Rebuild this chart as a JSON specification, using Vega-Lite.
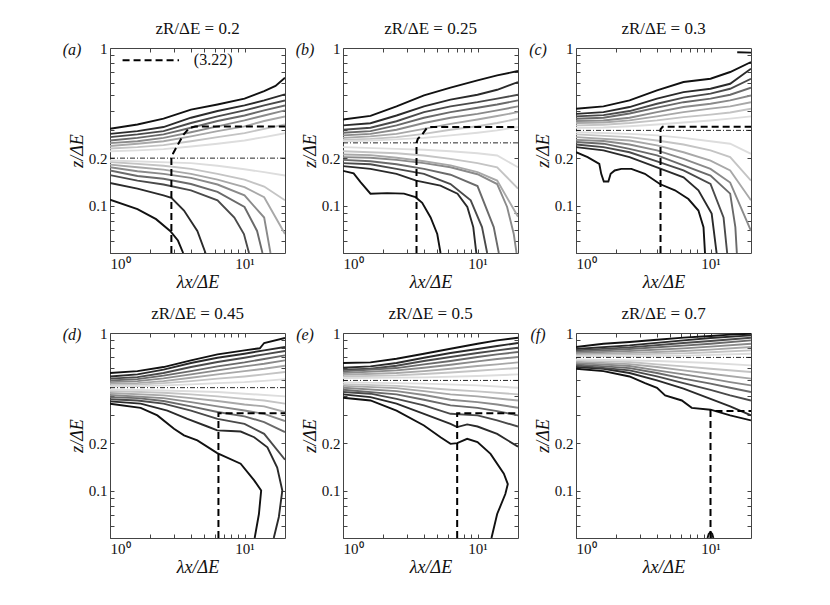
{
  "$schema": "https://vega.github.io/schema/vega-lite/v6.json",
  "padding": {"left": 62, "top": 19, "right": 5, "bottom": 5},
  "background": "white",
  "data": {
    "values": [
      {"p":"a","s":"h","x":1,"y":0.2},{"p":"a","s":"h","x":20,"y":0.2},
      {"p":"b","s":"h","x":1,"y":0.25},{"p":"b","s":"h","x":20,"y":0.25},
      {"p":"c","s":"h","x":1,"y":0.3},{"p":"c","s":"h","x":20,"y":0.3},
      {"p":"d","s":"h","x":1,"y":0.45},{"p":"d","s":"h","x":20,"y":0.45},
      {"p":"e","s":"h","x":1,"y":0.5},{"p":"e","s":"h","x":20,"y":0.5},
      {"p":"f","s":"h","x":1,"y":0.7},{"p":"f","s":"h","x":20,"y":0.7},

      {"p":"a","s":"n","x":1,"y":1,"txt":"(a)"},
      {"p":"b","s":"n","x":1,"y":1,"txt":"(b)"},
      {"p":"c","s":"n","x":1,"y":1,"txt":"(c)"},
      {"p":"d","s":"n","x":1,"y":1,"txt":"(d)"},
      {"p":"e","s":"n","x":1,"y":1,"txt":"(e)"},
      {"p":"f","s":"n","x":1,"y":1,"txt":"(f)"},
      {"p":"a","s":"q","x":4.2,"y":0.835,"txt":"(3.22)"},
      {"p":"a","s":"g","x":1.24,"y":0.835},{"p":"a","s":"g","x":3.26,"y":0.835},

      {"p":"a","s":"d","x":2.86,"y":0.05},{"p":"a","s":"d","x":2.86,"y":0.2},{"p":"a","s":"d","x":2.95,"y":0.215},{"p":"a","s":"d","x":3.5,"y":0.28},{"p":"a","s":"d","x":3.9,"y":0.312},{"p":"a","s":"d","x":4.3,"y":0.317},{"p":"a","s":"d","x":20,"y":0.317},
      {"p":"b","s":"d","x":3.52,"y":0.05},{"p":"b","s":"d","x":3.52,"y":0.25},{"p":"b","s":"d","x":3.6,"y":0.265},{"p":"b","s":"d","x":3.85,"y":0.28},{"p":"b","s":"d","x":4.2,"y":0.31},{"p":"b","s":"d","x":4.4,"y":0.315},{"p":"b","s":"d","x":20,"y":0.315},
      {"p":"c","s":"d","x":4.25,"y":0.05},{"p":"c","s":"d","x":4.25,"y":0.305},{"p":"c","s":"d","x":4.4,"y":0.316},{"p":"c","s":"d","x":20,"y":0.316},
      {"p":"d","s":"d","x":6.4,"y":0.05},{"p":"d","s":"d","x":6.4,"y":0.31},{"p":"d","s":"d","x":20,"y":0.31},
      {"p":"e","s":"d","x":7.06,"y":0.05},{"p":"e","s":"d","x":7.06,"y":0.31},{"p":"e","s":"d","x":20,"y":0.31},
      {"p":"f","s":"d","x":10,"y":0.05},{"p":"f","s":"d","x":10,"y":0.32},{"p":"f","s":"d","x":20,"y":0.32},

      {"p":"a","s":"u","k":1,"x":1,"y":0.307},{"p":"a","s":"u","k":1,"x":1.6,"y":0.327},{"p":"a","s":"u","k":1,"x":2.5,"y":0.356},{"p":"a","s":"u","k":1,"x":4,"y":0.406},{"p":"a","s":"u","k":1,"x":6.3,"y":0.438},{"p":"a","s":"u","k":1,"x":10,"y":0.477},{"p":"a","s":"u","k":1,"x":14,"y":0.533},{"p":"a","s":"u","k":1,"x":17,"y":0.575},{"p":"a","s":"u","k":1,"x":20,"y":0.648},
      {"p":"a","s":"u","k":2,"x":1,"y":0.285},{"p":"a","s":"u","k":2,"x":1.6,"y":0.297},{"p":"a","s":"u","k":2,"x":2.5,"y":0.315},{"p":"a","s":"u","k":2,"x":4,"y":0.361},{"p":"a","s":"u","k":2,"x":6.3,"y":0.398},{"p":"a","s":"u","k":2,"x":10,"y":0.432},{"p":"a","s":"u","k":2,"x":14,"y":0.465},{"p":"a","s":"u","k":2,"x":20,"y":0.508},
      {"p":"a","s":"u","k":3,"x":1,"y":0.272},{"p":"a","s":"u","k":3,"x":1.6,"y":0.283},{"p":"a","s":"u","k":3,"x":2.5,"y":0.297},{"p":"a","s":"u","k":3,"x":4,"y":0.334},{"p":"a","s":"u","k":3,"x":6.3,"y":0.368},{"p":"a","s":"u","k":3,"x":10,"y":0.402},{"p":"a","s":"u","k":3,"x":14,"y":0.432},{"p":"a","s":"u","k":3,"x":20,"y":0.465},
      {"p":"a","s":"u","k":4,"x":1,"y":0.259},{"p":"a","s":"u","k":4,"x":1.6,"y":0.269},{"p":"a","s":"u","k":4,"x":2.5,"y":0.283},{"p":"a","s":"u","k":4,"x":4,"y":0.312},{"p":"a","s":"u","k":4,"x":6.3,"y":0.344},{"p":"a","s":"u","k":4,"x":10,"y":0.373},{"p":"a","s":"u","k":4,"x":14,"y":0.402},{"p":"a","s":"u","k":4,"x":20,"y":0.432},
      {"p":"a","s":"u","k":5,"x":1,"y":0.249},{"p":"a","s":"u","k":5,"x":1.6,"y":0.256},{"p":"a","s":"u","k":5,"x":2.5,"y":0.269},{"p":"a","s":"u","k":5,"x":4,"y":0.292},{"p":"a","s":"u","k":5,"x":6.3,"y":0.318},{"p":"a","s":"u","k":5,"x":10,"y":0.347},{"p":"a","s":"u","k":5,"x":14,"y":0.373},{"p":"a","s":"u","k":5,"x":20,"y":0.402},
      {"p":"a","s":"u","k":6,"x":1,"y":0.239},{"p":"a","s":"u","k":6,"x":1.6,"y":0.247},{"p":"a","s":"u","k":6,"x":2.5,"y":0.256},{"p":"a","s":"u","k":6,"x":4,"y":0.275},{"p":"a","s":"u","k":6,"x":6.3,"y":0.297},{"p":"a","s":"u","k":6,"x":10,"y":0.318},{"p":"a","s":"u","k":6,"x":14,"y":0.344},{"p":"a","s":"u","k":6,"x":20,"y":0.368},
      {"p":"a","s":"u","k":7,"x":1,"y":0.23},{"p":"a","s":"u","k":7,"x":1.6,"y":0.235},{"p":"a","s":"u","k":7,"x":2.5,"y":0.242},{"p":"a","s":"u","k":7,"x":4,"y":0.256},{"p":"a","s":"u","k":7,"x":6.3,"y":0.272},{"p":"a","s":"u","k":7,"x":10,"y":0.288},{"p":"a","s":"u","k":7,"x":14,"y":0.307},{"p":"a","s":"u","k":7,"x":20,"y":0.327},
      {"p":"a","s":"u","k":8,"x":1,"y":0.221},{"p":"a","s":"u","k":8,"x":1.6,"y":0.224},{"p":"a","s":"u","k":8,"x":2.5,"y":0.228},{"p":"a","s":"u","k":8,"x":4,"y":0.237},{"p":"a","s":"u","k":8,"x":6.3,"y":0.247},{"p":"a","s":"u","k":8,"x":10,"y":0.259},{"p":"a","s":"u","k":8,"x":14,"y":0.272},{"p":"a","s":"u","k":8,"x":20,"y":0.288},
      {"p":"a","s":"l","k":1,"x":1,"y":0.109},{"p":"a","s":"l","k":1,"x":1.6,"y":0.095},{"p":"a","s":"l","k":1,"x":2.2,"y":0.082},{"p":"a","s":"l","k":1,"x":2.8,"y":0.069},{"p":"a","s":"l","k":1,"x":3.2,"y":0.06},{"p":"a","s":"l","k":1,"x":3.5,"y":0.05},
      {"p":"a","s":"l","k":2,"x":1,"y":0.139},{"p":"a","s":"l","k":2,"x":1.6,"y":0.128},{"p":"a","s":"l","k":2,"x":2.5,"y":0.116},{"p":"a","s":"l","k":2,"x":2.86,"y":0.112},{"p":"a","s":"l","k":2,"x":3.55,"y":0.093},{"p":"a","s":"l","k":2,"x":4.46,"y":0.069},{"p":"a","s":"l","k":2,"x":5.13,"y":0.05},
      {"p":"a","s":"l","k":3,"x":1,"y":0.156},{"p":"a","s":"l","k":3,"x":1.6,"y":0.144},{"p":"a","s":"l","k":3,"x":2.5,"y":0.136},{"p":"a","s":"l","k":3,"x":4,"y":0.125},{"p":"a","s":"l","k":3,"x":6.3,"y":0.108},{"p":"a","s":"l","k":3,"x":8.4,"y":0.084},{"p":"a","s":"l","k":3,"x":9.9,"y":0.066},{"p":"a","s":"l","k":3,"x":10.8,"y":0.05},
      {"p":"a","s":"l","k":4,"x":1,"y":0.167},{"p":"a","s":"l","k":4,"x":1.6,"y":0.154},{"p":"a","s":"l","k":4,"x":2.5,"y":0.148},{"p":"a","s":"l","k":4,"x":4,"y":0.137},{"p":"a","s":"l","k":4,"x":6.3,"y":0.122},{"p":"a","s":"l","k":4,"x":10,"y":0.098},{"p":"a","s":"l","k":4,"x":12.4,"y":0.069},{"p":"a","s":"l","k":4,"x":13.6,"y":0.05},
      {"p":"a","s":"l","k":5,"x":1,"y":0.175},{"p":"a","s":"l","k":5,"x":1.6,"y":0.165},{"p":"a","s":"l","k":5,"x":2.5,"y":0.159},{"p":"a","s":"l","k":5,"x":4,"y":0.15},{"p":"a","s":"l","k":5,"x":6.3,"y":0.136},{"p":"a","s":"l","k":5,"x":10,"y":0.116},{"p":"a","s":"l","k":5,"x":14,"y":0.084},{"p":"a","s":"l","k":5,"x":15.6,"y":0.05},
      {"p":"a","s":"l","k":6,"x":1,"y":0.182},{"p":"a","s":"l","k":6,"x":1.6,"y":0.175},{"p":"a","s":"l","k":6,"x":2.5,"y":0.169},{"p":"a","s":"l","k":6,"x":4,"y":0.159},{"p":"a","s":"l","k":6,"x":6.3,"y":0.146},{"p":"a","s":"l","k":6,"x":10,"y":0.131},{"p":"a","s":"l","k":6,"x":14,"y":0.113},{"p":"a","s":"l","k":6,"x":20,"y":0.066},
      {"p":"a","s":"l","k":7,"x":1,"y":0.189},{"p":"a","s":"l","k":7,"x":1.6,"y":0.184},{"p":"a","s":"l","k":7,"x":2.5,"y":0.179},{"p":"a","s":"l","k":7,"x":4,"y":0.171},{"p":"a","s":"l","k":7,"x":6.3,"y":0.159},{"p":"a","s":"l","k":7,"x":10,"y":0.146},{"p":"a","s":"l","k":7,"x":14,"y":0.132},{"p":"a","s":"l","k":7,"x":20,"y":0.108},
      {"p":"a","s":"l","k":8,"x":1,"y":0.193},{"p":"a","s":"l","k":8,"x":4,"y":0.186},{"p":"a","s":"l","k":8,"x":6.3,"y":0.179},{"p":"a","s":"l","k":8,"x":10,"y":0.17},{"p":"a","s":"l","k":8,"x":14,"y":0.163},{"p":"a","s":"l","k":8,"x":20,"y":0.155},

      {"p":"b","s":"u","k":1,"x":1,"y":0.352},{"p":"b","s":"u","k":1,"x":1.6,"y":0.371},{"p":"b","s":"u","k":1,"x":2.5,"y":0.426},{"p":"b","s":"u","k":1,"x":4,"y":0.5},{"p":"b","s":"u","k":1,"x":6.3,"y":0.56},{"p":"b","s":"u","k":1,"x":10,"y":0.623},{"p":"b","s":"u","k":1,"x":14,"y":0.67},{"p":"b","s":"u","k":1,"x":20,"y":0.714},
      {"p":"b","s":"u","k":2,"x":1,"y":0.323},{"p":"b","s":"u","k":2,"x":1.6,"y":0.333},{"p":"b","s":"u","k":2,"x":2.5,"y":0.373},{"p":"b","s":"u","k":2,"x":4,"y":0.426},{"p":"b","s":"u","k":2,"x":6.3,"y":0.47},{"p":"b","s":"u","k":2,"x":10,"y":0.505},{"p":"b","s":"u","k":2,"x":14,"y":0.543},{"p":"b","s":"u","k":2,"x":20,"y":0.608},
      {"p":"b","s":"u","k":3,"x":1,"y":0.303},{"p":"b","s":"u","k":3,"x":1.6,"y":0.312},{"p":"b","s":"u","k":3,"x":2.5,"y":0.343},{"p":"b","s":"u","k":3,"x":4,"y":0.392},{"p":"b","s":"u","k":3,"x":6.3,"y":0.426},{"p":"b","s":"u","k":3,"x":10,"y":0.453},{"p":"b","s":"u","k":3,"x":14,"y":0.477},{"p":"b","s":"u","k":3,"x":20,"y":0.505},
      {"p":"b","s":"u","k":4,"x":1,"y":0.29},{"p":"b","s":"u","k":4,"x":1.6,"y":0.297},{"p":"b","s":"u","k":4,"x":2.5,"y":0.323},{"p":"b","s":"u","k":4,"x":4,"y":0.361},{"p":"b","s":"u","k":4,"x":6.3,"y":0.392},{"p":"b","s":"u","k":4,"x":10,"y":0.418},{"p":"b","s":"u","k":4,"x":14,"y":0.438},{"p":"b","s":"u","k":4,"x":20,"y":0.465},
      {"p":"b","s":"u","k":5,"x":1,"y":0.279},{"p":"b","s":"u","k":5,"x":1.6,"y":0.285},{"p":"b","s":"u","k":5,"x":2.5,"y":0.303},{"p":"b","s":"u","k":5,"x":4,"y":0.334},{"p":"b","s":"u","k":5,"x":6.3,"y":0.361},{"p":"b","s":"u","k":5,"x":10,"y":0.382},{"p":"b","s":"u","k":5,"x":14,"y":0.402},{"p":"b","s":"u","k":5,"x":20,"y":0.426},
      {"p":"b","s":"u","k":6,"x":1,"y":0.269},{"p":"b","s":"u","k":6,"x":1.6,"y":0.275},{"p":"b","s":"u","k":6,"x":2.5,"y":0.285},{"p":"b","s":"u","k":6,"x":4,"y":0.307},{"p":"b","s":"u","k":6,"x":6.3,"y":0.33},{"p":"b","s":"u","k":6,"x":10,"y":0.352},{"p":"b","s":"u","k":6,"x":14,"y":0.37},{"p":"b","s":"u","k":6,"x":20,"y":0.392},
      {"p":"b","s":"u","k":7,"x":1,"y":0.261},{"p":"b","s":"u","k":7,"x":1.6,"y":0.265},{"p":"b","s":"u","k":7,"x":2.5,"y":0.272},{"p":"b","s":"u","k":7,"x":4,"y":0.285},{"p":"b","s":"u","k":7,"x":6.3,"y":0.303},{"p":"b","s":"u","k":7,"x":10,"y":0.319},{"p":"b","s":"u","k":7,"x":14,"y":0.334},{"p":"b","s":"u","k":7,"x":20,"y":0.356},
      {"p":"b","s":"u","k":8,"x":1,"y":0.256},{"p":"b","s":"u","k":8,"x":1.6,"y":0.259},{"p":"b","s":"u","k":8,"x":2.5,"y":0.263},{"p":"b","s":"u","k":8,"x":4,"y":0.269},{"p":"b","s":"u","k":8,"x":6.3,"y":0.279},{"p":"b","s":"u","k":8,"x":10,"y":0.29},{"p":"b","s":"u","k":8,"x":14,"y":0.3},{"p":"b","s":"u","k":8,"x":20,"y":0.315},
      {"p":"b","s":"l","k":1,"x":1,"y":0.166},{"p":"b","s":"l","k":1,"x":1.2,"y":0.16},{"p":"b","s":"l","k":1,"x":1.35,"y":0.141},{"p":"b","s":"l","k":1,"x":1.6,"y":0.119},{"p":"b","s":"l","k":1,"x":2.13,"y":0.12},{"p":"b","s":"l","k":1,"x":2.84,"y":0.119},{"p":"b","s":"l","k":1,"x":3.46,"y":0.113},{"p":"b","s":"l","k":1,"x":3.88,"y":0.104},{"p":"b","s":"l","k":1,"x":4.48,"y":0.084},{"p":"b","s":"l","k":1,"x":5.02,"y":0.066},{"p":"b","s":"l","k":1,"x":5.31,"y":0.05},
      {"p":"b","s":"l","k":2,"x":1,"y":0.178},{"p":"b","s":"l","k":2,"x":1.6,"y":0.171},{"p":"b","s":"l","k":2,"x":2.5,"y":0.159},{"p":"b","s":"l","k":2,"x":3.5,"y":0.144},{"p":"b","s":"l","k":2,"x":5.3,"y":0.134},{"p":"b","s":"l","k":2,"x":7.1,"y":0.119},{"p":"b","s":"l","k":2,"x":8.4,"y":0.098},{"p":"b","s":"l","k":2,"x":9.3,"y":0.073},{"p":"b","s":"l","k":2,"x":9.8,"y":0.05},
      {"p":"b","s":"l","k":3,"x":1,"y":0.186},{"p":"b","s":"l","k":3,"x":1.6,"y":0.183},{"p":"b","s":"l","k":3,"x":2.5,"y":0.171},{"p":"b","s":"l","k":3,"x":4,"y":0.159},{"p":"b","s":"l","k":3,"x":6.3,"y":0.137},{"p":"b","s":"l","k":3,"x":8.9,"y":0.108},{"p":"b","s":"l","k":3,"x":10.8,"y":0.073},{"p":"b","s":"l","k":3,"x":11.8,"y":0.05},
      {"p":"b","s":"l","k":4,"x":1,"y":0.195},{"p":"b","s":"l","k":4,"x":1.6,"y":0.191},{"p":"b","s":"l","k":4,"x":2.5,"y":0.183},{"p":"b","s":"l","k":4,"x":4,"y":0.171},{"p":"b","s":"l","k":4,"x":6.3,"y":0.157},{"p":"b","s":"l","k":4,"x":10,"y":0.133},{"p":"b","s":"l","k":4,"x":13.2,"y":0.073},{"p":"b","s":"l","k":4,"x":14.4,"y":0.05},
      {"p":"b","s":"l","k":5,"x":1,"y":0.203},{"p":"b","s":"l","k":5,"x":1.6,"y":0.201},{"p":"b","s":"l","k":5,"x":2.5,"y":0.195},{"p":"b","s":"l","k":5,"x":4,"y":0.186},{"p":"b","s":"l","k":5,"x":6.3,"y":0.175},{"p":"b","s":"l","k":5,"x":10,"y":0.158},{"p":"b","s":"l","k":5,"x":14,"y":0.137},{"p":"b","s":"l","k":5,"x":16.6,"y":0.098},{"p":"b","s":"l","k":5,"x":18.6,"y":0.066},{"p":"b","s":"l","k":5,"x":19.5,"y":0.05},
      {"p":"b","s":"l","k":6,"x":1,"y":0.211},{"p":"b","s":"l","k":6,"x":1.6,"y":0.209},{"p":"b","s":"l","k":6,"x":2.5,"y":0.201},{"p":"b","s":"l","k":6,"x":4,"y":0.191},{"p":"b","s":"l","k":6,"x":6.3,"y":0.18},{"p":"b","s":"l","k":6,"x":10,"y":0.163},{"p":"b","s":"l","k":6,"x":14,"y":0.144},{"p":"b","s":"l","k":6,"x":20,"y":0.085},
      {"p":"b","s":"l","k":7,"x":1,"y":0.221},{"p":"b","s":"l","k":7,"x":2.5,"y":0.215},{"p":"b","s":"l","k":7,"x":4,"y":0.208},{"p":"b","s":"l","k":7,"x":6.3,"y":0.198},{"p":"b","s":"l","k":7,"x":10,"y":0.186},{"p":"b","s":"l","k":7,"x":14,"y":0.175},{"p":"b","s":"l","k":7,"x":20,"y":0.128},
      {"p":"b","s":"l","k":8,"x":1,"y":0.235},{"p":"b","s":"l","k":8,"x":2.5,"y":0.229},{"p":"b","s":"l","k":8,"x":4,"y":0.226},{"p":"b","s":"l","k":8,"x":6.3,"y":0.221},{"p":"b","s":"l","k":8,"x":10,"y":0.215},{"p":"b","s":"l","k":8,"x":14,"y":0.208},{"p":"b","s":"l","k":8,"x":20,"y":0.175},

      {"p":"c","s":"u","k":1,"x":1,"y":0.412},{"p":"c","s":"u","k":1,"x":1.6,"y":0.426},{"p":"c","s":"u","k":1,"x":2.5,"y":0.465},{"p":"c","s":"u","k":1,"x":4,"y":0.538},{"p":"c","s":"u","k":1,"x":6.3,"y":0.608},{"p":"c","s":"u","k":1,"x":10,"y":0.638},{"p":"c","s":"u","k":1,"x":14,"y":0.704},{"p":"c","s":"u","k":1,"x":20,"y":0.815},
      {"p":"c","s":"u","k":2,"x":1,"y":0.382},{"p":"c","s":"u","k":2,"x":1.6,"y":0.392},{"p":"c","s":"u","k":2,"x":2.5,"y":0.422},{"p":"c","s":"u","k":2,"x":4,"y":0.477},{"p":"c","s":"u","k":2,"x":6.3,"y":0.525},{"p":"c","s":"u","k":2,"x":10,"y":0.551},{"p":"c","s":"u","k":2,"x":14,"y":0.593},{"p":"c","s":"u","k":2,"x":20,"y":0.739},
      {"p":"c","s":"u","k":3,"x":1,"y":0.368},{"p":"c","s":"u","k":3,"x":1.6,"y":0.375},{"p":"c","s":"u","k":3,"x":2.5,"y":0.398},{"p":"c","s":"u","k":3,"x":4,"y":0.443},{"p":"c","s":"u","k":3,"x":6.3,"y":0.484},{"p":"c","s":"u","k":3,"x":10,"y":0.513},{"p":"c","s":"u","k":3,"x":14,"y":0.551},{"p":"c","s":"u","k":3,"x":20,"y":0.638},
      {"p":"c","s":"u","k":4,"x":1,"y":0.356},{"p":"c","s":"u","k":4,"x":1.6,"y":0.361},{"p":"c","s":"u","k":4,"x":2.5,"y":0.384},{"p":"c","s":"u","k":4,"x":4,"y":0.418},{"p":"c","s":"u","k":4,"x":6.3,"y":0.453},{"p":"c","s":"u","k":4,"x":10,"y":0.477},{"p":"c","s":"u","k":4,"x":14,"y":0.505},{"p":"c","s":"u","k":4,"x":20,"y":0.56},
      {"p":"c","s":"u","k":5,"x":1,"y":0.344},{"p":"c","s":"u","k":5,"x":1.6,"y":0.347},{"p":"c","s":"u","k":5,"x":2.5,"y":0.361},{"p":"c","s":"u","k":5,"x":4,"y":0.392},{"p":"c","s":"u","k":5,"x":6.3,"y":0.422},{"p":"c","s":"u","k":5,"x":10,"y":0.443},{"p":"c","s":"u","k":5,"x":14,"y":0.465},{"p":"c","s":"u","k":5,"x":20,"y":0.5},
      {"p":"c","s":"u","k":6,"x":1,"y":0.334},{"p":"c","s":"u","k":6,"x":1.6,"y":0.337},{"p":"c","s":"u","k":6,"x":2.5,"y":0.347},{"p":"c","s":"u","k":6,"x":4,"y":0.368},{"p":"c","s":"u","k":6,"x":6.3,"y":0.392},{"p":"c","s":"u","k":6,"x":10,"y":0.412},{"p":"c","s":"u","k":6,"x":14,"y":0.426},{"p":"c","s":"u","k":6,"x":20,"y":0.453},
      {"p":"c","s":"u","k":7,"x":1,"y":0.323},{"p":"c","s":"u","k":7,"x":1.6,"y":0.326},{"p":"c","s":"u","k":7,"x":2.5,"y":0.334},{"p":"c","s":"u","k":7,"x":4,"y":0.347},{"p":"c","s":"u","k":7,"x":6.3,"y":0.364},{"p":"c","s":"u","k":7,"x":10,"y":0.378},{"p":"c","s":"u","k":7,"x":14,"y":0.39},{"p":"c","s":"u","k":7,"x":20,"y":0.412},
      {"p":"c","s":"u","k":8,"x":1,"y":0.312},{"p":"c","s":"u","k":8,"x":1.6,"y":0.313},{"p":"c","s":"u","k":8,"x":2.5,"y":0.319},{"p":"c","s":"u","k":8,"x":4,"y":0.327},{"p":"c","s":"u","k":8,"x":6.3,"y":0.337},{"p":"c","s":"u","k":8,"x":10,"y":0.347},{"p":"c","s":"u","k":8,"x":14,"y":0.356},{"p":"c","s":"u","k":8,"x":20,"y":0.368},
      {"p":"c","s":"v","k":1,"x":15.8,"y":0.94},{"p":"c","s":"v","k":1,"x":20,"y":0.935},
      {"p":"c","s":"l","k":1,"x":1,"y":0.218},{"p":"c","s":"l","k":1,"x":1.22,"y":0.203},{"p":"c","s":"l","k":1,"x":1.49,"y":0.184},{"p":"c","s":"l","k":1,"x":1.54,"y":0.159},{"p":"c","s":"l","k":1,"x":1.61,"y":0.142},{"p":"c","s":"l","k":1,"x":1.74,"y":0.142},{"p":"c","s":"l","k":1,"x":1.81,"y":0.159},{"p":"c","s":"l","k":1,"x":1.94,"y":0.167},{"p":"c","s":"l","k":1,"x":2.17,"y":0.171},{"p":"c","s":"l","k":1,"x":2.58,"y":0.171},{"p":"c","s":"l","k":1,"x":3.25,"y":0.159},{"p":"c","s":"l","k":1,"x":4.2,"y":0.137},{"p":"c","s":"l","k":1,"x":5.44,"y":0.125},{"p":"c","s":"l","k":1,"x":6.85,"y":0.11},{"p":"c","s":"l","k":1,"x":8.13,"y":0.093},{"p":"c","s":"l","k":1,"x":8.87,"y":0.073},{"p":"c","s":"l","k":1,"x":9.1,"y":0.05},
      {"p":"c","s":"l","k":2,"x":1,"y":0.235},{"p":"c","s":"l","k":2,"x":1.6,"y":0.224},{"p":"c","s":"l","k":2,"x":2.5,"y":0.203},{"p":"c","s":"l","k":2,"x":4,"y":0.175},{"p":"c","s":"l","k":2,"x":6.3,"y":0.151},{"p":"c","s":"l","k":2,"x":8.13,"y":0.125},{"p":"c","s":"l","k":2,"x":10.2,"y":0.089},{"p":"c","s":"l","k":2,"x":11.1,"y":0.05},
      {"p":"c","s":"l","k":3,"x":1,"y":0.244},{"p":"c","s":"l","k":3,"x":1.6,"y":0.235},{"p":"c","s":"l","k":3,"x":2.5,"y":0.218},{"p":"c","s":"l","k":3,"x":4,"y":0.191},{"p":"c","s":"l","k":3,"x":6.3,"y":0.167},{"p":"c","s":"l","k":3,"x":10,"y":0.137},{"p":"c","s":"l","k":3,"x":12.5,"y":0.084},{"p":"c","s":"l","k":3,"x":13.3,"y":0.05},
      {"p":"c","s":"l","k":4,"x":1,"y":0.253},{"p":"c","s":"l","k":4,"x":1.6,"y":0.247},{"p":"c","s":"l","k":4,"x":2.5,"y":0.229},{"p":"c","s":"l","k":4,"x":4,"y":0.208},{"p":"c","s":"l","k":4,"x":6.3,"y":0.18},{"p":"c","s":"l","k":4,"x":10,"y":0.155},{"p":"c","s":"l","k":4,"x":14,"y":0.119},{"p":"c","s":"l","k":4,"x":15.3,"y":0.073},{"p":"c","s":"l","k":4,"x":15.7,"y":0.05},
      {"p":"c","s":"l","k":5,"x":1,"y":0.261},{"p":"c","s":"l","k":5,"x":1.6,"y":0.257},{"p":"c","s":"l","k":5,"x":2.5,"y":0.244},{"p":"c","s":"l","k":5,"x":4,"y":0.224},{"p":"c","s":"l","k":5,"x":6.3,"y":0.198},{"p":"c","s":"l","k":5,"x":10,"y":0.171},{"p":"c","s":"l","k":5,"x":14,"y":0.14},{"p":"c","s":"l","k":5,"x":20,"y":0.069},
      {"p":"c","s":"l","k":6,"x":1,"y":0.272},{"p":"c","s":"l","k":6,"x":2.5,"y":0.259},{"p":"c","s":"l","k":6,"x":4,"y":0.241},{"p":"c","s":"l","k":6,"x":6.3,"y":0.218},{"p":"c","s":"l","k":6,"x":10,"y":0.193},{"p":"c","s":"l","k":6,"x":14,"y":0.167},{"p":"c","s":"l","k":6,"x":20,"y":0.108},
      {"p":"c","s":"l","k":7,"x":1,"y":0.283},{"p":"c","s":"l","k":7,"x":2.5,"y":0.272},{"p":"c","s":"l","k":7,"x":4,"y":0.259},{"p":"c","s":"l","k":7,"x":6.3,"y":0.244},{"p":"c","s":"l","k":7,"x":10,"y":0.224},{"p":"c","s":"l","k":7,"x":14,"y":0.203},{"p":"c","s":"l","k":7,"x":20,"y":0.144},
      {"p":"c","s":"l","k":8,"x":1,"y":0.292},{"p":"c","s":"l","k":8,"x":2.5,"y":0.285},{"p":"c","s":"l","k":8,"x":4,"y":0.279},{"p":"c","s":"l","k":8,"x":6.3,"y":0.269},{"p":"c","s":"l","k":8,"x":10,"y":0.256},{"p":"c","s":"l","k":8,"x":14,"y":0.247},{"p":"c","s":"l","k":8,"x":20,"y":0.213},

      {"p":"d","s":"u","k":1,"x":1,"y":0.557},{"p":"d","s":"u","k":1,"x":1.6,"y":0.573},{"p":"d","s":"u","k":1,"x":2.5,"y":0.608},{"p":"d","s":"u","k":1,"x":4,"y":0.67},{"p":"d","s":"u","k":1,"x":6.3,"y":0.732},{"p":"d","s":"u","k":1,"x":10,"y":0.776},{"p":"d","s":"u","k":1,"x":13,"y":0.8},{"p":"d","s":"u","k":1,"x":14,"y":0.864},{"p":"d","s":"u","k":1,"x":20,"y":0.929},
      {"p":"d","s":"u","k":2,"x":1,"y":0.53},{"p":"d","s":"u","k":2,"x":1.6,"y":0.546},{"p":"d","s":"u","k":2,"x":2.5,"y":0.585},{"p":"d","s":"u","k":2,"x":4,"y":0.645},{"p":"d","s":"u","k":2,"x":6.3,"y":0.697},{"p":"d","s":"u","k":2,"x":10,"y":0.739},{"p":"d","s":"u","k":2,"x":14,"y":0.776},{"p":"d","s":"u","k":2,"x":20,"y":0.815},
      {"p":"d","s":"u","k":3,"x":1,"y":0.513},{"p":"d","s":"u","k":3,"x":1.6,"y":0.525},{"p":"d","s":"u","k":3,"x":2.5,"y":0.557},{"p":"d","s":"u","k":3,"x":4,"y":0.608},{"p":"d","s":"u","k":3,"x":6.3,"y":0.654},{"p":"d","s":"u","k":3,"x":10,"y":0.697},{"p":"d","s":"u","k":3,"x":14,"y":0.732},{"p":"d","s":"u","k":3,"x":20,"y":0.768},
      {"p":"d","s":"u","k":4,"x":1,"y":0.5},{"p":"d","s":"u","k":4,"x":1.6,"y":0.51},{"p":"d","s":"u","k":4,"x":2.5,"y":0.536},{"p":"d","s":"u","k":4,"x":4,"y":0.573},{"p":"d","s":"u","k":4,"x":6.3,"y":0.614},{"p":"d","s":"u","k":4,"x":10,"y":0.651},{"p":"d","s":"u","k":4,"x":14,"y":0.684},{"p":"d","s":"u","k":4,"x":20,"y":0.721},
      {"p":"d","s":"u","k":5,"x":1,"y":0.488},{"p":"d","s":"u","k":5,"x":1.6,"y":0.495},{"p":"d","s":"u","k":5,"x":2.5,"y":0.515},{"p":"d","s":"u","k":5,"x":4,"y":0.546},{"p":"d","s":"u","k":5,"x":6.3,"y":0.579},{"p":"d","s":"u","k":5,"x":10,"y":0.614},{"p":"d","s":"u","k":5,"x":14,"y":0.638},{"p":"d","s":"u","k":5,"x":20,"y":0.67},
      {"p":"d","s":"u","k":6,"x":1,"y":0.477},{"p":"d","s":"u","k":6,"x":1.6,"y":0.481},{"p":"d","s":"u","k":6,"x":2.5,"y":0.495},{"p":"d","s":"u","k":6,"x":4,"y":0.52},{"p":"d","s":"u","k":6,"x":6.3,"y":0.546},{"p":"d","s":"u","k":6,"x":10,"y":0.573},{"p":"d","s":"u","k":6,"x":14,"y":0.593},{"p":"d","s":"u","k":6,"x":20,"y":0.62},
      {"p":"d","s":"u","k":7,"x":1,"y":0.467},{"p":"d","s":"u","k":7,"x":1.6,"y":0.47},{"p":"d","s":"u","k":7,"x":2.5,"y":0.481},{"p":"d","s":"u","k":7,"x":4,"y":0.495},{"p":"d","s":"u","k":7,"x":6.3,"y":0.513},{"p":"d","s":"u","k":7,"x":10,"y":0.53},{"p":"d","s":"u","k":7,"x":14,"y":0.546},{"p":"d","s":"u","k":7,"x":20,"y":0.565},
      {"p":"d","s":"u","k":8,"x":1,"y":0.458},{"p":"d","s":"u","k":8,"x":1.6,"y":0.46},{"p":"d","s":"u","k":8,"x":2.5,"y":0.465},{"p":"d","s":"u","k":8,"x":4,"y":0.472},{"p":"d","s":"u","k":8,"x":6.3,"y":0.481},{"p":"d","s":"u","k":8,"x":10,"y":0.488},{"p":"d","s":"u","k":8,"x":14,"y":0.497},{"p":"d","s":"u","k":8,"x":20,"y":0.51},
      {"p":"d","s":"l","k":1,"x":1,"y":0.356},{"p":"d","s":"l","k":1,"x":1.69,"y":0.335},{"p":"d","s":"l","k":1,"x":2.25,"y":0.3},{"p":"d","s":"l","k":1,"x":2.99,"y":0.247},{"p":"d","s":"l","k":1,"x":3.55,"y":0.224},{"p":"d","s":"l","k":1,"x":4.46,"y":0.208},{"p":"d","s":"l","k":1,"x":6.27,"y":0.173},{"p":"d","s":"l","k":1,"x":9.36,"y":0.148},{"p":"d","s":"l","k":1,"x":11.8,"y":0.116},{"p":"d","s":"l","k":1,"x":13.3,"y":0.1},{"p":"d","s":"l","k":1,"x":12.8,"y":0.071},{"p":"d","s":"l","k":1,"x":11.9,"y":0.05},
      {"p":"d","s":"l","k":2,"x":1,"y":0.368},{"p":"d","s":"l","k":2,"x":1.69,"y":0.356},{"p":"d","s":"l","k":2,"x":2.67,"y":0.322},{"p":"d","s":"l","k":2,"x":3.76,"y":0.285},{"p":"d","s":"l","k":2,"x":5.3,"y":0.255},{"p":"d","s":"l","k":2,"x":6.27,"y":0.241},{"p":"d","s":"l","k":2,"x":7.9,"y":0.239},{"p":"d","s":"l","k":2,"x":9.36,"y":0.237},{"p":"d","s":"l","k":2,"x":11.8,"y":0.218},{"p":"d","s":"l","k":2,"x":14.8,"y":0.188},{"p":"d","s":"l","k":2,"x":17.5,"y":0.14},{"p":"d","s":"l","k":2,"x":19.1,"y":0.1},{"p":"d","s":"l","k":2,"x":18,"y":0.068},{"p":"d","s":"l","k":2,"x":16.5,"y":0.05},
      {"p":"d","s":"l","k":3,"x":1,"y":0.38},{"p":"d","s":"l","k":3,"x":1.6,"y":0.373},{"p":"d","s":"l","k":3,"x":2.5,"y":0.356},{"p":"d","s":"l","k":3,"x":4,"y":0.322},{"p":"d","s":"l","k":3,"x":6.3,"y":0.285},{"p":"d","s":"l","k":3,"x":10,"y":0.265},{"p":"d","s":"l","k":3,"x":14,"y":0.229},{"p":"d","s":"l","k":3,"x":20,"y":0.157},
      {"p":"d","s":"l","k":4,"x":1,"y":0.392},{"p":"d","s":"l","k":4,"x":1.6,"y":0.386},{"p":"d","s":"l","k":4,"x":2.5,"y":0.37},{"p":"d","s":"l","k":4,"x":4,"y":0.342},{"p":"d","s":"l","k":4,"x":6.3,"y":0.315},{"p":"d","s":"l","k":4,"x":10,"y":0.296},{"p":"d","s":"l","k":4,"x":14,"y":0.272},{"p":"d","s":"l","k":4,"x":20,"y":0.235},
      {"p":"d","s":"l","k":5,"x":1,"y":0.404},{"p":"d","s":"l","k":5,"x":2.5,"y":0.386},{"p":"d","s":"l","k":5,"x":4,"y":0.364},{"p":"d","s":"l","k":5,"x":6.3,"y":0.342},{"p":"d","s":"l","k":5,"x":10,"y":0.322},{"p":"d","s":"l","k":5,"x":14,"y":0.307},{"p":"d","s":"l","k":5,"x":20,"y":0.276},
      {"p":"d","s":"l","k":6,"x":1,"y":0.416},{"p":"d","s":"l","k":6,"x":2.5,"y":0.402},{"p":"d","s":"l","k":6,"x":4,"y":0.386},{"p":"d","s":"l","k":6,"x":6.3,"y":0.37},{"p":"d","s":"l","k":6,"x":10,"y":0.352},{"p":"d","s":"l","k":6,"x":14,"y":0.342},{"p":"d","s":"l","k":6,"x":20,"y":0.315},
      {"p":"d","s":"l","k":7,"x":1,"y":0.428},{"p":"d","s":"l","k":7,"x":2.5,"y":0.418},{"p":"d","s":"l","k":7,"x":4,"y":0.408},{"p":"d","s":"l","k":7,"x":6.3,"y":0.396},{"p":"d","s":"l","k":7,"x":10,"y":0.382},{"p":"d","s":"l","k":7,"x":14,"y":0.373},{"p":"d","s":"l","k":7,"x":20,"y":0.356},
      {"p":"d","s":"l","k":8,"x":1,"y":0.438},{"p":"d","s":"l","k":8,"x":2.5,"y":0.432},{"p":"d","s":"l","k":8,"x":6.3,"y":0.422},{"p":"d","s":"l","k":8,"x":10,"y":0.412},{"p":"d","s":"l","k":8,"x":20,"y":0.396},

      {"p":"e","s":"u","k":1,"x":1,"y":0.645},{"p":"e","s":"u","k":1,"x":1.6,"y":0.651},{"p":"e","s":"u","k":1,"x":2.5,"y":0.687},{"p":"e","s":"u","k":1,"x":4,"y":0.739},{"p":"e","s":"u","k":1,"x":6.3,"y":0.795},{"p":"e","s":"u","k":1,"x":10,"y":0.855},{"p":"e","s":"u","k":1,"x":14,"y":0.898},{"p":"e","s":"u","k":1,"x":20,"y":0.934},
      {"p":"e","s":"u","k":2,"x":1,"y":0.602},{"p":"e","s":"u","k":2,"x":1.6,"y":0.614},{"p":"e","s":"u","k":2,"x":2.5,"y":0.645},{"p":"e","s":"u","k":2,"x":4,"y":0.697},{"p":"e","s":"u","k":2,"x":6.3,"y":0.746},{"p":"e","s":"u","k":2,"x":10,"y":0.791},{"p":"e","s":"u","k":2,"x":14,"y":0.827},{"p":"e","s":"u","k":2,"x":20,"y":0.864},
      {"p":"e","s":"u","k":3,"x":1,"y":0.585},{"p":"e","s":"u","k":3,"x":1.6,"y":0.593},{"p":"e","s":"u","k":3,"x":2.5,"y":0.62},{"p":"e","s":"u","k":3,"x":4,"y":0.664},{"p":"e","s":"u","k":3,"x":6.3,"y":0.704},{"p":"e","s":"u","k":3,"x":10,"y":0.746},{"p":"e","s":"u","k":3,"x":14,"y":0.776},{"p":"e","s":"u","k":3,"x":20,"y":0.807},
      {"p":"e","s":"u","k":4,"x":1,"y":0.571},{"p":"e","s":"u","k":4,"x":2.5,"y":0.599},{"p":"e","s":"u","k":4,"x":4,"y":0.632},{"p":"e","s":"u","k":4,"x":6.3,"y":0.664},{"p":"e","s":"u","k":4,"x":10,"y":0.704},{"p":"e","s":"u","k":4,"x":14,"y":0.732},{"p":"e","s":"u","k":4,"x":20,"y":0.757},
      {"p":"e","s":"u","k":5,"x":1,"y":0.557},{"p":"e","s":"u","k":5,"x":2.5,"y":0.579},{"p":"e","s":"u","k":5,"x":4,"y":0.602},{"p":"e","s":"u","k":5,"x":6.3,"y":0.629},{"p":"e","s":"u","k":5,"x":10,"y":0.661},{"p":"e","s":"u","k":5,"x":14,"y":0.684},{"p":"e","s":"u","k":5,"x":20,"y":0.704},
      {"p":"e","s":"u","k":6,"x":1,"y":0.543},{"p":"e","s":"u","k":6,"x":2.5,"y":0.557},{"p":"e","s":"u","k":6,"x":4,"y":0.573},{"p":"e","s":"u","k":6,"x":6.3,"y":0.593},{"p":"e","s":"u","k":6,"x":10,"y":0.617},{"p":"e","s":"u","k":6,"x":14,"y":0.632},{"p":"e","s":"u","k":6,"x":20,"y":0.651},
      {"p":"e","s":"u","k":7,"x":1,"y":0.53},{"p":"e","s":"u","k":7,"x":2.5,"y":0.538},{"p":"e","s":"u","k":7,"x":4,"y":0.549},{"p":"e","s":"u","k":7,"x":6.3,"y":0.562},{"p":"e","s":"u","k":7,"x":10,"y":0.576},{"p":"e","s":"u","k":7,"x":14,"y":0.588},{"p":"e","s":"u","k":7,"x":20,"y":0.599},
      {"p":"e","s":"u","k":8,"x":1,"y":0.518},{"p":"e","s":"u","k":8,"x":4,"y":0.523},{"p":"e","s":"u","k":8,"x":10,"y":0.533},{"p":"e","s":"u","k":8,"x":20,"y":0.546},
      {"p":"e","s":"l","k":1,"x":1,"y":0.388},{"p":"e","s":"l","k":1,"x":1.6,"y":0.373},{"p":"e","s":"l","k":1,"x":2.5,"y":0.322},{"p":"e","s":"l","k":1,"x":4,"y":0.259},{"p":"e","s":"l","k":1,"x":5.31,"y":0.218},{"p":"e","s":"l","k":1,"x":6.3,"y":0.198},{"p":"e","s":"l","k":1,"x":7.06,"y":0.2},{"p":"e","s":"l","k":1,"x":8.38,"y":0.213},{"p":"e","s":"l","k":1,"x":10,"y":0.203},{"p":"e","s":"l","k":1,"x":12.5,"y":0.171},{"p":"e","s":"l","k":1,"x":15.7,"y":0.128},{"p":"e","s":"l","k":1,"x":16.8,"y":0.11},{"p":"e","s":"l","k":1,"x":16.1,"y":0.095},{"p":"e","s":"l","k":1,"x":14,"y":0.071},{"p":"e","s":"l","k":1,"x":12.7,"y":0.05},
      {"p":"e","s":"l","k":2,"x":1,"y":0.408},{"p":"e","s":"l","k":2,"x":1.6,"y":0.392},{"p":"e","s":"l","k":2,"x":2.5,"y":0.356},{"p":"e","s":"l","k":2,"x":4,"y":0.307},{"p":"e","s":"l","k":2,"x":6.3,"y":0.265},{"p":"e","s":"l","k":2,"x":7.06,"y":0.253},{"p":"e","s":"l","k":2,"x":8.38,"y":0.263},{"p":"e","s":"l","k":2,"x":10,"y":0.255},{"p":"e","s":"l","k":2,"x":14,"y":0.229},{"p":"e","s":"l","k":2,"x":20,"y":0.19},
      {"p":"e","s":"l","k":3,"x":1,"y":0.422},{"p":"e","s":"l","k":3,"x":1.6,"y":0.412},{"p":"e","s":"l","k":3,"x":2.5,"y":0.382},{"p":"e","s":"l","k":3,"x":4,"y":0.347},{"p":"e","s":"l","k":3,"x":6.3,"y":0.307},{"p":"e","s":"l","k":3,"x":10,"y":0.3},{"p":"e","s":"l","k":3,"x":14,"y":0.279},{"p":"e","s":"l","k":3,"x":20,"y":0.255},
      {"p":"e","s":"l","k":4,"x":1,"y":0.436},{"p":"e","s":"l","k":4,"x":2.5,"y":0.408},{"p":"e","s":"l","k":4,"x":4,"y":0.377},{"p":"e","s":"l","k":4,"x":6.3,"y":0.347},{"p":"e","s":"l","k":4,"x":10,"y":0.335},{"p":"e","s":"l","k":4,"x":14,"y":0.319},{"p":"e","s":"l","k":4,"x":20,"y":0.3},
      {"p":"e","s":"l","k":5,"x":1,"y":0.449},{"p":"e","s":"l","k":5,"x":2.5,"y":0.428},{"p":"e","s":"l","k":5,"x":4,"y":0.404},{"p":"e","s":"l","k":5,"x":6.3,"y":0.377},{"p":"e","s":"l","k":5,"x":10,"y":0.364},{"p":"e","s":"l","k":5,"x":14,"y":0.352},{"p":"e","s":"l","k":5,"x":20,"y":0.335},
      {"p":"e","s":"l","k":6,"x":1,"y":0.462},{"p":"e","s":"l","k":6,"x":2.5,"y":0.447},{"p":"e","s":"l","k":6,"x":4,"y":0.428},{"p":"e","s":"l","k":6,"x":6.3,"y":0.408},{"p":"e","s":"l","k":6,"x":10,"y":0.396},{"p":"e","s":"l","k":6,"x":20,"y":0.373},
      {"p":"e","s":"l","k":7,"x":1,"y":0.474},{"p":"e","s":"l","k":7,"x":2.5,"y":0.462},{"p":"e","s":"l","k":7,"x":4,"y":0.449},{"p":"e","s":"l","k":7,"x":6.3,"y":0.436},{"p":"e","s":"l","k":7,"x":10,"y":0.426},{"p":"e","s":"l","k":7,"x":20,"y":0.408},
      {"p":"e","s":"l","k":8,"x":1,"y":0.486},{"p":"e","s":"l","k":8,"x":4,"y":0.477},{"p":"e","s":"l","k":8,"x":10,"y":0.465},{"p":"e","s":"l","k":8,"x":20,"y":0.449},

      {"p":"f","s":"u","k":1,"x":1,"y":0.815},{"p":"f","s":"u","k":1,"x":1.6,"y":0.855},{"p":"f","s":"u","k":1,"x":2.5,"y":0.877},{"p":"f","s":"u","k":1,"x":4,"y":0.907},{"p":"f","s":"u","k":1,"x":6.3,"y":0.934},{"p":"f","s":"u","k":1,"x":10,"y":0.957},{"p":"f","s":"u","k":1,"x":14,"y":0.976},{"p":"f","s":"u","k":1,"x":20,"y":0.99},
      {"p":"f","s":"u","k":2,"x":1,"y":0.791},{"p":"f","s":"u","k":2,"x":2.5,"y":0.835},{"p":"f","s":"u","k":2,"x":6.3,"y":0.898},{"p":"f","s":"u","k":2,"x":10,"y":0.929},{"p":"f","s":"u","k":2,"x":20,"y":0.966},
      {"p":"f","s":"u","k":3,"x":1,"y":0.776},{"p":"f","s":"u","k":3,"x":2.5,"y":0.811},{"p":"f","s":"u","k":3,"x":6.3,"y":0.864},{"p":"f","s":"u","k":3,"x":10,"y":0.889},{"p":"f","s":"u","k":3,"x":20,"y":0.934},
      {"p":"f","s":"u","k":4,"x":1,"y":0.761},{"p":"f","s":"u","k":4,"x":2.5,"y":0.791},{"p":"f","s":"u","k":4,"x":6.3,"y":0.831},{"p":"f","s":"u","k":4,"x":10,"y":0.855},{"p":"f","s":"u","k":4,"x":20,"y":0.898},
      {"p":"f","s":"u","k":5,"x":1,"y":0.746},{"p":"f","s":"u","k":5,"x":2.5,"y":0.768},{"p":"f","s":"u","k":5,"x":6.3,"y":0.799},{"p":"f","s":"u","k":5,"x":10,"y":0.819},{"p":"f","s":"u","k":5,"x":20,"y":0.855},
      {"p":"f","s":"u","k":6,"x":1,"y":0.732},{"p":"f","s":"u","k":6,"x":2.5,"y":0.746},{"p":"f","s":"u","k":6,"x":6.3,"y":0.768},{"p":"f","s":"u","k":6,"x":10,"y":0.784},{"p":"f","s":"u","k":6,"x":20,"y":0.815},
      {"p":"f","s":"u","k":7,"x":1,"y":0.721},{"p":"f","s":"u","k":7,"x":2.5,"y":0.732},{"p":"f","s":"u","k":7,"x":6.3,"y":0.743},{"p":"f","s":"u","k":7,"x":10,"y":0.754},{"p":"f","s":"u","k":7,"x":20,"y":0.776},
      {"p":"f","s":"u","k":8,"x":1,"y":0.711},{"p":"f","s":"u","k":8,"x":6.3,"y":0.718},{"p":"f","s":"u","k":8,"x":20,"y":0.739},
      {"p":"f","s":"l","k":1,"x":1,"y":0.593},{"p":"f","s":"l","k":1,"x":1.6,"y":0.573},{"p":"f","s":"l","k":1,"x":2.5,"y":0.53},{"p":"f","s":"l","k":1,"x":3.26,"y":0.481},{"p":"f","s":"l","k":1,"x":4,"y":0.449},{"p":"f","s":"l","k":1,"x":4.6,"y":0.402},{"p":"f","s":"l","k":1,"x":6.12,"y":0.373},{"p":"f","s":"l","k":1,"x":7.25,"y":0.335},{"p":"f","s":"l","k":1,"x":10,"y":0.326},{"p":"f","s":"l","k":1,"x":14,"y":0.3},{"p":"f","s":"l","k":1,"x":20,"y":0.279},
      {"p":"f","s":"l","k":2,"x":1,"y":0.608},{"p":"f","s":"l","k":2,"x":1.6,"y":0.593},{"p":"f","s":"l","k":2,"x":2.5,"y":0.557},{"p":"f","s":"l","k":2,"x":4,"y":0.5},{"p":"f","s":"l","k":2,"x":6.3,"y":0.443},{"p":"f","s":"l","k":2,"x":10,"y":0.382},{"p":"f","s":"l","k":2,"x":14,"y":0.342},{"p":"f","s":"l","k":2,"x":20,"y":0.3},
      {"p":"f","s":"l","k":3,"x":1,"y":0.623},{"p":"f","s":"l","k":3,"x":2.5,"y":0.579},{"p":"f","s":"l","k":3,"x":4,"y":0.53},{"p":"f","s":"l","k":3,"x":6.3,"y":0.481},{"p":"f","s":"l","k":3,"x":10,"y":0.436},{"p":"f","s":"l","k":3,"x":14,"y":0.402},{"p":"f","s":"l","k":3,"x":20,"y":0.373},
      {"p":"f","s":"l","k":4,"x":1,"y":0.632},{"p":"f","s":"l","k":4,"x":2.5,"y":0.599},{"p":"f","s":"l","k":4,"x":4,"y":0.557},{"p":"f","s":"l","k":4,"x":6.3,"y":0.513},{"p":"f","s":"l","k":4,"x":10,"y":0.477},{"p":"f","s":"l","k":4,"x":14,"y":0.449},{"p":"f","s":"l","k":4,"x":20,"y":0.422},
      {"p":"f","s":"l","k":5,"x":1,"y":0.645},{"p":"f","s":"l","k":5,"x":2.5,"y":0.617},{"p":"f","s":"l","k":5,"x":4,"y":0.579},{"p":"f","s":"l","k":5,"x":6.3,"y":0.546},{"p":"f","s":"l","k":5,"x":10,"y":0.513},{"p":"f","s":"l","k":5,"x":14,"y":0.488},{"p":"f","s":"l","k":5,"x":20,"y":0.465},
      {"p":"f","s":"l","k":6,"x":1,"y":0.658},{"p":"f","s":"l","k":6,"x":2.5,"y":0.635},{"p":"f","s":"l","k":6,"x":4,"y":0.608},{"p":"f","s":"l","k":6,"x":6.3,"y":0.579},{"p":"f","s":"l","k":6,"x":10,"y":0.551},{"p":"f","s":"l","k":6,"x":20,"y":0.513},
      {"p":"f","s":"l","k":7,"x":1,"y":0.67},{"p":"f","s":"l","k":7,"x":2.5,"y":0.654},{"p":"f","s":"l","k":7,"x":4,"y":0.632},{"p":"f","s":"l","k":7,"x":6.3,"y":0.614},{"p":"f","s":"l","k":7,"x":10,"y":0.593},{"p":"f","s":"l","k":7,"x":20,"y":0.565},
      {"p":"f","s":"l","k":8,"x":1,"y":0.68},{"p":"f","s":"l","k":8,"x":4,"y":0.664},{"p":"f","s":"l","k":8,"x":10,"y":0.645},{"p":"f","s":"l","k":8,"x":20,"y":0.623},
      {"p":"f","s":"m","k":1,"x":9.5,"y":0.05},{"p":"f","s":"m","k":1,"x":9.7,"y":0.053},{"p":"f","s":"m","k":1,"x":10,"y":0.0545},{"p":"f","s":"m","k":1,"x":10.3,"y":0.053},{"p":"f","s":"m","k":1,"x":10.5,"y":0.05}
    ]
  },
  "columns": 3,
  "bounds": "flush",
  "facet": {
    "field": "p",
    "type": "nominal",
    "title": null,
    "header": {
      "labelExpr": "datum.value == 'a' ? 'zR/ΔE = 0.2' : datum.value == 'b' ? 'zR/ΔE = 0.25' : datum.value == 'c' ? 'zR/ΔE = 0.3' : datum.value == 'd' ? 'zR/ΔE = 0.45' : datum.value == 'e' ? 'zR/ΔE = 0.5' : 'zR/ΔE = 0.7'",
      "labelFont": "Liberation Serif, serif",
      "labelFontSize": 17,
      "labelColor": "#111",
      "labelPadding": 3
    }
  },
  "spacing": {"column": 58, "row": 80},
  "resolve": {"axis": {"x": "independent", "y": "independent"}},
  "spec": {
    "width": 175,
    "height": 205,
    "resolve": {"axis": {"x": "independent", "y": "independent"}},
    "layer": [
      {
        "transform": [{"filter": "datum.k > 0"}],
        "mark": {"type": "line", "strokeWidth": 1.9, "clip": true},
        "encoding": {
          "x": {
            "field": "x",
            "type": "quantitative",
            "scale": {"type": "log", "domain": [1, 20], "nice": false},
            "axis": {
              "values": [1, 2, 3, 4, 5, 6, 7, 8, 9, 10],
              "labelExpr": "datum.value == 1 ? '10⁰' : datum.value == 10 ? '10¹' : ''",
              "title": "λx/ΔE"
            }
          },
          "y": {
            "field": "y",
            "type": "quantitative",
            "scale": {"type": "log", "domain": [0.05, 1], "nice": false},
            "axis": {
              "values": [0.05, 0.06, 0.07, 0.08, 0.09, 0.1, 0.2, 0.3, 0.4, 0.5, 0.6, 0.7, 0.8, 0.9, 1],
              "labelExpr": "datum.value == 1 ? '1' : datum.value == 0.2 ? '0.2' : datum.value == 0.1 ? '0.1' : ''",
              "title": "z/ΔE"
            }
          },
          "color": {
            "field": "k",
            "type": "ordinal",
            "scale": {"domain": [1, 2, 3, 4, 5, 6, 7, 8], "range": ["#111111", "#2a2a2a", "#4a4a4a", "#6a6a6a", "#8a8a8a", "#a8a8a8", "#c4c4c4", "#dddddd"]},
            "legend": null
          },
          "detail": {"field": "s"},
          "order": {"value": null}
        }
      },
      {
        "transform": [{"filter": "datum.s == 'h'"}],
        "mark": {"type": "line", "strokeWidth": 0.9, "color": "#111", "strokeDash": [5, 2, 1, 2]},
        "encoding": {
          "x": {
            "field": "x",
            "type": "quantitative",
            "axis": {"orient": "top", "values": [2, 3, 4, 5, 6, 7, 8, 9, 10], "labels": false, "title": null}
          },
          "y": {
            "field": "y",
            "type": "quantitative",
            "axis": {"orient": "right", "values": [0.06, 0.07, 0.08, 0.09, 0.1, 0.2, 0.3, 0.4, 0.5, 0.6, 0.7, 0.8, 0.9], "labels": false, "title": null}
          }
        }
      },
      {
        "transform": [{"filter": "datum.s == 'd' || datum.s == 'g'"}],
        "mark": {"type": "line", "strokeWidth": 2, "color": "#000", "strokeDash": [7, 4], "clip": true},
        "encoding": {
          "x": {"field": "x", "type": "quantitative", "axis": null},
          "y": {"field": "y", "type": "quantitative", "axis": null},
          "detail": {"field": "s"},
          "order": {"value": null}
        }
      },
      {
        "transform": [{"filter": "datum.s == 'n'"}],
        "mark": {"type": "text", "font": "Liberation Serif, serif", "fontSize": 16, "fontStyle": "italic", "align": "center", "baseline": "middle", "dx": -38, "dy": 2, "color": "#111"},
        "encoding": {
          "x": {"field": "x", "type": "quantitative", "axis": null},
          "y": {"field": "y", "type": "quantitative", "axis": null},
          "text": {"field": "txt"}
        }
      },
      {
        "transform": [{"filter": "datum.s == 'q'"}],
        "mark": {"type": "text", "font": "Liberation Serif, serif", "fontSize": 16, "align": "left", "baseline": "middle", "color": "#111"},
        "encoding": {
          "x": {"field": "x", "type": "quantitative", "axis": null},
          "y": {"field": "y", "type": "quantitative", "axis": null},
          "text": {"field": "txt"}
        }
      }
    ]
  },
  "config": {
    "font": "Liberation Serif, serif",
    "view": {"stroke": "#444", "strokeWidth": 1},
    "axis": {
      "domain": false,
      "grid": false,
      "tickColor": "#444",
      "tickSize": -4,
      "labelPadding": 7,
      "labelFont": "Liberation Serif, serif",
      "labelFontSize": 15,
      "labelColor": "#111",
      "labelOverlap": false,
      "titlePadding": 2,
      "titleFont": "Liberation Serif, serif",
      "titleFontSize": 18,
      "titleFontWeight": "normal",
      "titleFontStyle": "italic",
      "titleColor": "#111"
    }
  }
}
